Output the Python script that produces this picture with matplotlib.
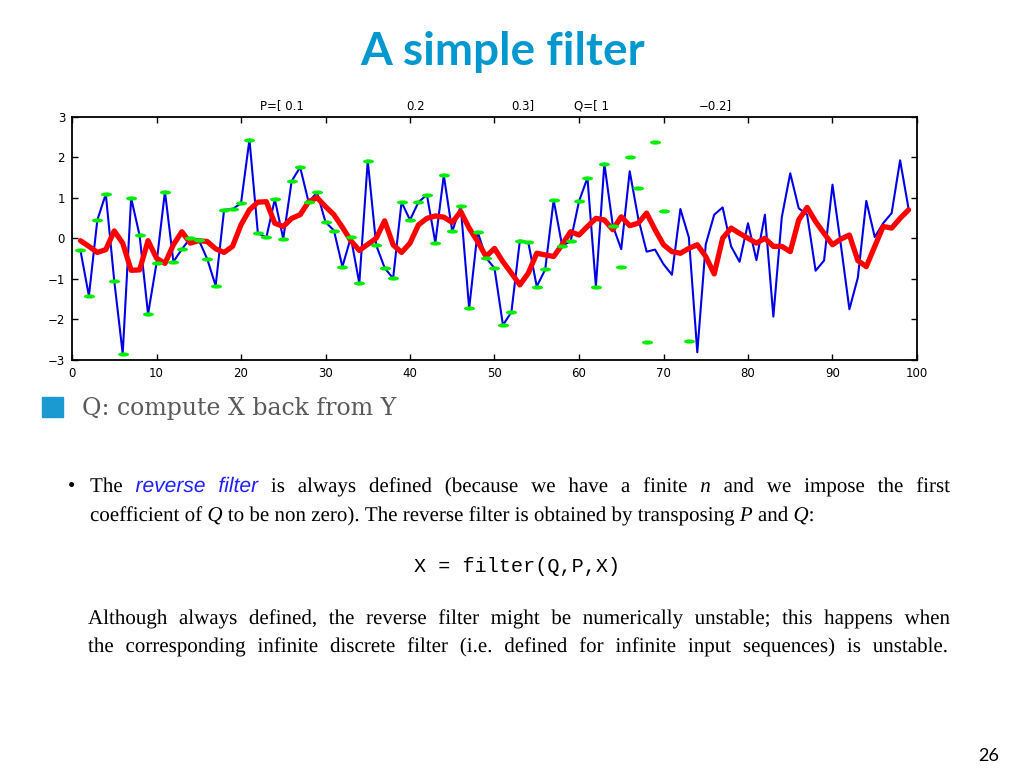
import re
import numpy as np
import matplotlib
matplotlib.use("Agg")
import matplotlib.pyplot as plt
from matplotlib.path import Path
from matplotlib.transforms import Affine2D
from matplotlib.patches import Rectangle, PathPatch
from matplotlib.font_manager import FontProperties
from matplotlib.textpath import TextPath, text_to_path

# data (sample index 1..99)
x_input = [
    -0.30, -1.42, 0.45, 1.09, -1.05, -2.84, 0.99, 0.07, -1.87, -0.62,
    1.15, -0.58, -0.27, 0.00, -0.04, -0.51, -1.17, 0.70, 0.72, 0.86,
    2.43, 0.12, 0.02, 0.96, -0.01, 1.41, 1.75, 0.89, 1.13, 0.40,
    0.19, -0.70, 0.02, -1.11, 1.91, -0.17, -0.73, -0.99, 0.89, 0.45,
    0.89, 1.07, -0.11, 1.55, 0.17, 0.79, -1.73, 0.16, -0.48, -0.74,
    -2.14, -1.82, -0.06, -0.10, -1.19, -0.77, 0.94, -0.18, -0.08, 0.91,
    1.49, -1.19, 1.84, 0.31, -0.27, 1.65, 0.50, -0.33, -0.28, -0.64,
    -0.90, 0.72, 0.02, -2.81, -0.15, 0.58, 0.76, -0.20, -0.58, 0.37,
    -0.54, 0.58, -1.93, 0.52, 1.60, 0.74, 0.58, -0.80, -0.55, 1.32,
    -0.18, -1.75, -0.97, 0.92, 0.03, 0.37, 0.62, 1.92, 0.73,
]
y_filtered = [
    -0.06, -0.20, -0.35, -0.28, 0.18, -0.12, -0.79, -0.78, -0.06, -0.49,
    -0.62, -0.16, 0.16, -0.12, -0.06, -0.08, -0.26, -0.35, -0.20, 0.33,
    0.70, 0.89, 0.90, 0.37, 0.29, 0.49, 0.58, 0.90, 1.00, 0.78,
    0.58, 0.27, -0.06, -0.30, -0.15, 0.00, 0.43, -0.16, -0.35, -0.12,
    0.33, 0.49, 0.55, 0.52, 0.39, 0.66, 0.25, -0.08, -0.45, -0.25,
    -0.58, -0.86, -1.15, -0.86, -0.37, -0.41, -0.45, -0.16, 0.16, 0.08,
    0.29, 0.49, 0.45, 0.21, 0.53, 0.31, 0.37, 0.62, 0.21, -0.16,
    -0.33, -0.37, -0.25, -0.16, -0.45, -0.88, 0.00, 0.25, 0.12, 0.00,
    -0.12, 0.00, -0.20, -0.20, -0.33, 0.45, 0.76, 0.41, 0.12, -0.16,
    -0.02, 0.08, -0.55, -0.70, -0.20, 0.29, 0.25, 0.49, 0.70,
]
# reconstructed X: equal to the input up to sample 64, then it blows up (off scale = nan)
nan = float("nan")
x_back = x_input[:64] + [
    -0.72, 1.99, 1.25, -2.55, 2.36, 0.68, nan, nan, -2.54,
] + [nan] * 26

title_parts = ["P=[ 0.1", "0.2", "0.3]", "Q=[ 1", "\u22120.2]"]
title_x = [282, 416, 523, 591, 715]

W, H = 1024, 768


def fx(x):
    return x / W


def fy(y):
    return 1 - y / H


fig = plt.figure(figsize=(W / 100, H / 100), dpi=100)

# slide title
fig.text(fx(503), fy(52), "A simple filter", ha="center", va="center",
         fontsize=33, fontweight="bold", family="Lato", color="#0098ce")

# the matlab plot
ax = fig.add_axes([fx(72), fy(360), (917 - 72) / W, (360 - 116.5) / H])
n = np.arange(1, len(x_input) + 1)
ax.plot(n, x_input, color="#0000e6", linewidth=1.5)
ax.plot(n, y_filtered, color="#ff0000", linewidth=3.8,
        solid_joinstyle="round", solid_capstyle="round")
ellipse = Path.unit_circle().transformed(Affine2D().scale(1.0, 0.38))
ax.plot(n, x_back, linestyle="none", marker=ellipse, markersize=8,
        markerfacecolor="#00ee00", markeredgecolor="none")

ax.set_xlim(0, 100)
ax.set_ylim(-3, 3)
ax.set_xticks(range(0, 101, 10))
ax.set_yticks(range(-3, 4))
ax.tick_params(direction="in", top=True, right=True, length=4, width=1,
               labelsize=8.5, pad=5)
for lab in ax.get_xticklabels() + ax.get_yticklabels():
    lab.set_fontfamily("DejaVu Sans")
for sp in ax.spines.values():
    sp.set_linewidth(1.3)

for txt, xp in zip(title_parts, title_x):
    fig.text(fx(xp), fy(106), txt, ha="center", va="center", fontsize=8.5,
             family="DejaVu Sans")

# bullet point of the slide
fig.patches.append(Rectangle((fx(42), fy(417)), 21 / W, 20 / H,
                             transform=fig.transFigure, color="#1a9ad0"))
fig.text(fx(82), fy(408), "Q: compute X back from Y", ha="left", va="center",
         fontsize=17, family="DejaVu Serif", color="#595959")

# pasted latex text, drawn as glyph paths so every word sits on the same baseline
styles = {
    "roman": dict(family="Liberation Serif", style="normal", color="black"),
    "link": dict(family="Liberation Sans", style="italic", color="#2020ff"),
    "ital": dict(family="Liberation Serif", style="italic", color="black"),
}


def parse(line):
    pieces = []
    for part in re.split(r"(\*[^*]+\*|_[^_]+_)", line):
        if not part:
            continue
        if part.startswith("*"):
            pieces.append((part[1:-1], "link"))
        elif part.startswith("_"):
            pieces.append((part[1:-1], "ital"))
        else:
            pieces.append((part, "roman"))
    words = [[]]
    for text, style in pieces:
        for i, c in enumerate(text.split(" ")):
            if i > 0:
                words.append([])
            if c:
                words[-1].append((c, style))
    return [w for w in words if w]


def draw_line(line, x0, x1, y, size=21, justify=True):
    # size in pixels (em), y is the baseline in image pixels from the top
    words = parse(line)
    rows, widths = [], []
    for w in words:
        row = []
        for text, style in w:
            st = styles[style]
            fp = FontProperties(family=st["family"], style=st["style"], size=size)
            wd, _, _ = text_to_path.get_text_width_height_descent(text, fp, ismath=False)
            row.append((TextPath((0, 0), text, prop=fp), wd, st["color"]))
        rows.append(row)
        widths.append(sum(r[1] for r in row))
    space = size * 0.25
    if justify and len(words) > 1:
        space = (x1 - x0 - sum(widths)) / (len(words) - 1)
    x = x0
    for row, wsum in zip(rows, widths):
        xx = x
        for tp, wd, col in row:
            patch = PathPatch(tp, facecolor=col, edgecolor="none", lw=0,
                              transform=Affine2D().translate(xx, H - y))
            fig.add_artist(patch)
            xx += wd
        x += wsum + space


fig.text(fx(68), fy(492), "\u2022", fontsize=15, va="baseline", family="Liberation Serif")
draw_line("The *reverse filter* is always defined (because we have a finite _n_ and we impose the first",
          90, 950, 492)
draw_line("coefficient of _Q_ to be non zero). The reverse filter is obtained by transposing _P_ and _Q_:",
          90, 950, 521, justify=False)
fig.text(fx(517), fy(572), "X = filter(Q,P,X)", ha="center", va="baseline",
         fontsize=14.5, family="Liberation Mono")
draw_line("Although always defined, the reverse filter might be numerically unstable; this happens when",
          88, 950, 624)
draw_line("the corresponding infinite discrete filter (i.e. defined for infinite input sequences) is unstable.",
          88, 948, 652)

fig.text(fx(989), fy(756), "26", ha="center", va="center", fontsize=13,
         family="Lato", color="black")

fig.savefig("out.png", dpi=100)
